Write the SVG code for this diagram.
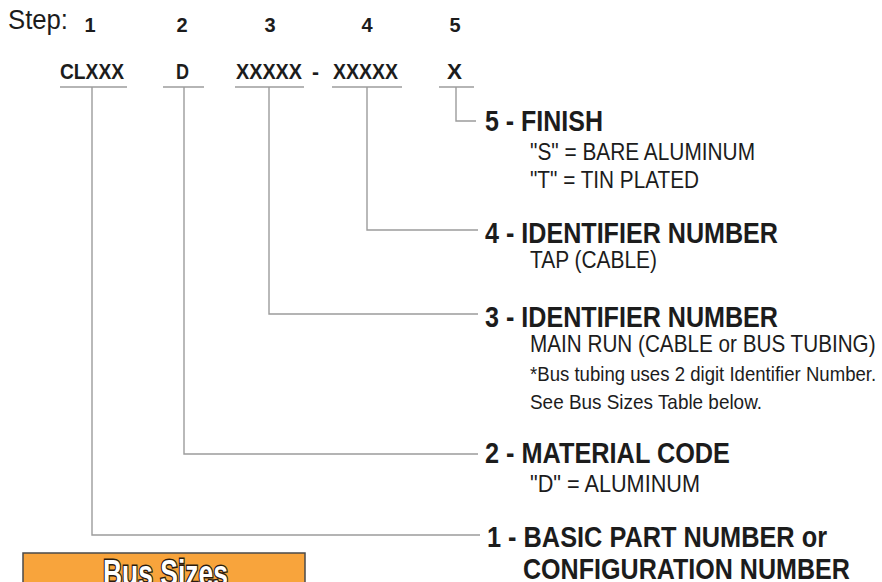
<svg xmlns="http://www.w3.org/2000/svg" width="882" height="582" viewBox="0 0 882 582">
<style>
.t{font-family:"Liberation Sans Narrow","Liberation Sans",Arial,sans-serif;fill:#1c1c1c}
.h{font-size:29px;font-weight:bold}
.s{font-size:23px}
.n{font-size:21px}
.c{font-size:22px;font-weight:bold}
.num{font-size:20px;font-weight:bold;text-anchor:middle}
.ln{stroke:#9c9c9c;stroke-width:1.4;fill:none}
</style>
<rect width="882" height="582" fill="#ffffff"/>
<g id="step-row">
<text class="t" x="8" y="29" font-size="27" textLength="60" lengthAdjust="spacingAndGlyphs">Step:</text>
<text class="t num" x="90" y="32">1</text>
<text class="t num" x="182" y="32">2</text>
<text class="t num" x="270" y="32">3</text>
<text class="t num" x="367" y="32">4</text>
<text class="t num" x="455" y="32">5</text>
</g>
<g id="code-row">
<text class="t c" x="60" y="79" textLength="64" lengthAdjust="spacingAndGlyphs">CLXXX</text>
<text class="t c" x="176" y="79" textLength="13" lengthAdjust="spacingAndGlyphs">D</text>
<text class="t c" x="236" y="79" textLength="66" lengthAdjust="spacingAndGlyphs">XXXXX</text>
<text class="t c" x="312" y="79" textLength="7" lengthAdjust="spacingAndGlyphs">-</text>
<text class="t c" x="333" y="79" textLength="65" lengthAdjust="spacingAndGlyphs">XXXXX</text>
<text class="t c" x="447" y="79" textLength="15" lengthAdjust="spacingAndGlyphs">X</text>
</g>
<g id="connectors">
<line class="ln" x1="60" y1="87" x2="127" y2="87"/>
<line class="ln" x1="163" y1="87" x2="204" y2="87"/>
<line class="ln" x1="235" y1="87" x2="304" y2="87"/>
<line class="ln" x1="332" y1="87" x2="402" y2="87"/>
<line class="ln" x1="439" y1="87" x2="474" y2="87"/>
<polyline class="ln" points="456,87 456,121 476,121"/>
<polyline class="ln" points="367,87 367,230 478,230"/>
<polyline class="ln" points="269,87 269,314 478,314"/>
<polyline class="ln" points="184,87 184,454 478,454"/>
<polyline class="ln" points="92,87 92,535 480,535"/>
</g>
<g id="step5">
<text class="t h" x="485" y="131" textLength="118" lengthAdjust="spacingAndGlyphs">5 - FINISH</text>
<text class="t s" x="530" y="160" textLength="225" lengthAdjust="spacingAndGlyphs">"S" = BARE ALUMINUM</text>
<text class="t s" x="530" y="188" textLength="169" lengthAdjust="spacingAndGlyphs">"T" = TIN PLATED</text>
</g>
<g id="step4">
<text class="t h" x="485" y="243" textLength="293" lengthAdjust="spacingAndGlyphs">4 - IDENTIFIER NUMBER</text>
<text class="t s" x="530" y="268" textLength="127" lengthAdjust="spacingAndGlyphs">TAP (CABLE)</text>
</g>
<g id="step3">
<text class="t h" x="485" y="327" textLength="293" lengthAdjust="spacingAndGlyphs">3 - IDENTIFIER NUMBER</text>
<text class="t s" transform="translate(530,352) scale(0.9,1)" x="0" y="0" textLength="384" lengthAdjust="spacingAndGlyphs">MAIN RUN (CABLE or BUS TUBING)</text>
<text class="t n" transform="translate(530,381) scale(0.883,1)" x="0" y="0" textLength="392" lengthAdjust="spacingAndGlyphs">*Bus tubing uses 2 digit Identifier Number.</text>
<text class="t n" x="530" y="409" textLength="232" lengthAdjust="spacingAndGlyphs">See Bus Sizes Table below.</text>
</g>
<g id="step2">
<text class="t h" x="485" y="463" textLength="245" lengthAdjust="spacingAndGlyphs">2 - MATERIAL CODE</text>
<text class="t s" x="530" y="492" textLength="170" lengthAdjust="spacingAndGlyphs">"D"  = ALUMINUM</text>
</g>
<g id="step1">
<text class="t h" x="487" y="547" textLength="340" lengthAdjust="spacingAndGlyphs">1 - BASIC PART NUMBER or</text>
<text class="t h" transform="translate(523,579) scale(0.847,1)" x="0" y="0" textLength="386" lengthAdjust="spacingAndGlyphs">CONFIGURATION NUMBER</text>
</g>
<g id="bus-sizes">
<rect x="23" y="553" width="282" height="45" fill="#f8a43c" stroke="#4a4a4a" stroke-width="1.5"/>
<text x="103" y="586" font-family="Liberation Sans Narrow,Liberation Sans,Arial,sans-serif" font-weight="bold" font-size="37" textLength="125" lengthAdjust="spacingAndGlyphs" fill="#ffffff" stroke="#2a1c10" stroke-width="3" paint-order="stroke">Bus Sizes</text>
</g>
</svg>
